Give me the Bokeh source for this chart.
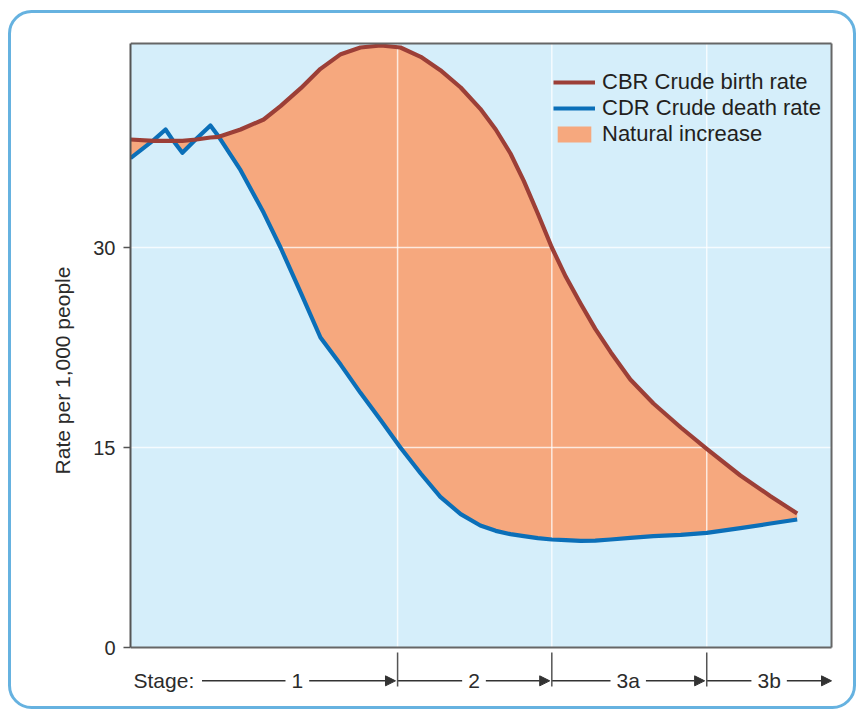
import numpy as np
from bokeh.plotting import figure
from bokeh.models import Range1d, FixedTicker, Legend, LegendItem, Arrow, NormalHead
from bokeh.core.properties import value
from bokeh.embed import file_html
from bokeh.resources import INLINE

# ---------------- data ----------------
x = [0.0, 3.3, 5.0, 6.1, 7.4, 9.4, 11.4, 12.6, 15.7, 19.0, 21.4, 24.3, 27.1, 30.0,
     32.8, 35.7, 38.5, 41.4, 44.2, 47.1, 49.9, 52.1, 54.2, 56.1, 58.1, 60.1, 62.1,
     64.2, 66.3, 68.5, 71.3, 74.6, 78.5, 82.2, 87.0, 91.3, 95.1]
cbr = [38.1, 38.0, 38.0, 38.0, 38.0, 38.1, 38.25, 38.3, 38.85, 39.6, 40.6, 41.95, 43.4,
       44.5, 45.0, 45.15, 45.0, 44.3, 43.3, 42.0, 40.4, 38.85, 37.05, 35.0, 32.55, 30.0,
       27.8, 25.8, 23.9, 22.15, 20.1, 18.3, 16.5, 14.9, 12.9, 11.35, 10.05]
cdr = [36.7, 38.05, 38.85, 38.0, 37.1, 38.15, 39.15, 38.3, 35.8, 32.6, 30.0, 26.6, 23.25,
       21.2, 19.1, 17.05, 15.0, 13.05, 11.3, 10.0, 9.15, 8.75, 8.5, 8.35, 8.2, 8.1,
       8.05, 8.0, 8.02, 8.1, 8.22, 8.35, 8.45, 8.6, 8.95, 9.3, 9.6]
stage_edges = [38.1, 60.1, 82.2]
stage_labels = ["1", "2", "3a", "3b"]
y_ticks = [0, 15, 30]
series_names = ["CBR Crude birth rate", "CDR Crude death rate", "Natural increase"]

# ---------------- layout constants ----------------
X_MAX, Y_MAX = 100.0, 45.3
FONT = "Liberation Sans"
TXT = "#2b2b2b"
PX_X = 7.01    # px per x unit

border_svg = ("data:image/svg+xml;utf8,<svg xmlns='http://www.w3.org/2000/svg' width='856' height='709'>"
              "<rect x='9.5' y='11.5' width='845' height='696' rx='22' ry='22' fill='none' "
              "stroke='%2366b2e0' stroke-width='3'/></svg>")

p = figure(width=856, height=709, output_backend="svg", toolbar_location=None,
           x_range=Range1d(0, 100.71), y_range=Range1d(-3.975, 45.525),
           x_axis_location=None,
           min_border_left=130, min_border_right=20, min_border_top=40, min_border_bottom=9)
p.border_fill_color = None
p.background_fill_color = None
p.outline_line_color = None
p.grid.visible = False
p.styles = {"background-image": 'url("%s")' % border_svg,
            "background-repeat": "no-repeat",
            "background-size": "856px 709px"}

# plot background
p.quad(left=0, right=X_MAX, bottom=0, top=Y_MAX, fill_color="#d5eefa", line_color=None)

# natural increase area
top = np.maximum(np.array(cbr), np.array(cdr))
area = p.varea(x=x, y1=cdr, y2=top, fill_color="#f6a87e")

# grid lines (over area)
p.segment(x0=stage_edges, y0=0, x1=stage_edges, y1=Y_MAX, line_color="white", line_alpha=0.75, line_width=1.5)
p.segment(x0=0, y0=y_ticks[1:], x1=X_MAX, y1=y_ticks[1:], line_color="white", line_alpha=0.75, line_width=1.5)

# series lines
l_cdr = p.line(x, cdr, line_color="#0b6fb8", line_width=4.2, line_join="round")
l_cbr = p.line(x, cbr, line_color="#9c3f37", line_width=4.2, line_join="round")

# frame outline (top, right, bottom)
p.multi_line(xs=[[0, X_MAX], [X_MAX, X_MAX], [0, X_MAX]], ys=[[Y_MAX, Y_MAX], [0, Y_MAX], [0, 0]],
             line_color="#666666", line_width=2)

# y axis
ax = p.yaxis[0]
ax.ticker = FixedTicker(ticks=y_ticks)
ax.bounds = (0, Y_MAX)
ax.axis_line_color = "#555555"
ax.axis_line_width = 2
ax.major_tick_line_color = "#555555"
ax.major_tick_line_width = 1.5
ax.major_tick_out = 7
ax.major_tick_in = 0
ax.minor_tick_line_color = None
ax.major_label_text_font = FONT
ax.major_label_text_font_size = "20px"
ax.major_label_text_color = TXT
ax.major_label_standoff = 8
ax.axis_label = "Rate per 1,000 people"
ax.axis_label_text_font = FONT
ax.axis_label_text_font_size = "21px"
ax.axis_label_text_font_style = "normal"
ax.axis_label_text_color = TXT
ax.axis_label_standoff = 16

# stage row
y_row = -2.5
p.text(x=[0.43], y=[y_row], text=["Stage:"], text_font=value(FONT), text_font_size="21px",
       text_color=TXT, text_baseline="middle", text_align="left")
starts = [10.2] + stage_edges
ends = stage_edges + [X_MAX]
label_w = {"1": 11.7, "2": 11.7, "3a": 23.4, "3b": 23.4}
centers = [23.8, 49.0, 71.0, 91.1]
p.text(x=centers, y=[y_row] * 4, text=stage_labels, text_font=value(FONT), text_font_size="21px",
       text_color=TXT, text_baseline="middle", text_align="center")
seg_x0, seg_x1 = [], []
for s, e, c, lab in zip(starts, ends, centers, stage_labels):
    half = (label_w[lab] / 2 + 6) / PX_X
    seg_x0.append(s)
    seg_x1.append(c - half)
    end_x = e - 0.3 if e < X_MAX else e
    p.add_layout(Arrow(end=NormalHead(size=10, fill_color="#333333", line_color="#333333", line_width=1),
                       x_start=c + half, y_start=y_row, x_end=end_x, y_end=y_row,
                       line_color="#333333", line_width=1.5))
p.segment(x0=seg_x0, y0=y_row, x1=seg_x1, y1=y_row, line_color="#333333", line_width=1.5)
p.segment(x0=stage_edges, y0=-0.375, x1=stage_edges, y1=-2.925, line_color="#555555", line_width=1.5)

# legend
legend = Legend(items=[LegendItem(label=series_names[0], renderers=[l_cbr]),
                       LegendItem(label=series_names[1], renderers=[l_cdr]),
                       LegendItem(label=series_names[2], renderers=[area])],
                location=(423, 553), glyph_width=42, glyph_height=20, label_standoff=7,
                label_text_font=FONT, label_text_font_size="22px", label_text_color="#231f20",
                label_height=20, spacing=0, padding=0, margin=0,
                border_line_color=None, background_fill_alpha=0)
p.add_layout(legend)

open("out.html", "w").write(file_html(p, INLINE))
